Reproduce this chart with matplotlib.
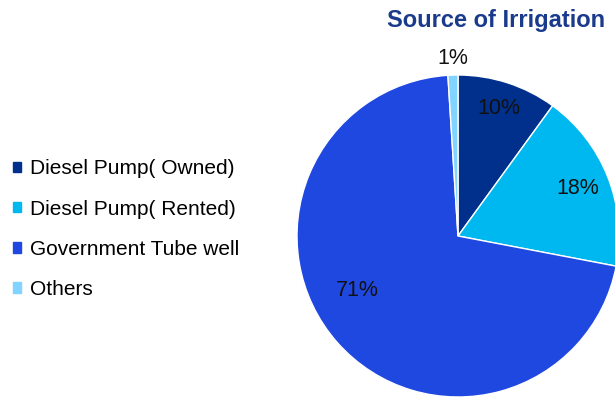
import numpy as np
import matplotlib.pyplot as plt

plt.rcParams['font.family'] = ['Liberation Sans', 'DejaVu Sans']

sources = ['Diesel Pump( Owned)', 'Diesel Pump( Rented)', 'Government Tube well', 'Others']
shares = [10, 18, 71, 1]
colors = ['#00308C', '#00B8F0', '#1F48E0', '#80D4FF']
label_dist = [0.83, 0.80, 0.71, 1.12]

fig = plt.figure(figsize=(6.15, 3.98), dpi=100)
ax = fig.add_axes([0, 0, 1, 1])

cx, cy, r = 458, 162, 161
wedges, _ = ax.pie(shares, colors=colors, startangle=90, counterclock=False,
                   center=(cx, cy), radius=r, frame=True,
                   wedgeprops=dict(edgecolor='white', linewidth=1))
ax.set_xlim(0, 615)
ax.set_ylim(0, 398)
ax.set_aspect('equal')
ax.axis('off')

for i, w in enumerate(wedges):
    ang = np.deg2rad((w.theta1 + w.theta2) / 2)
    if sources[i] == 'Government Tube well':
        ang = ang - np.deg2rad(13)
    d = label_dist[i] * r
    if sources[i] == 'Others':
        d = 1.1 * r
    ax.text(cx + d * np.cos(ang), cy + d * np.sin(ang), f'{shares[i]}%',
            ha='center', va='center', fontsize=15.5, color='#111111')

ax.text(496, 398 - 20, 'Source of Irrigation', ha='center', va='center',
        fontsize=17, fontweight='bold', color='#1A3A8C')

handles = [plt.Rectangle((0, 0), 1, 1, color=c) for c in colors]
fig.legend(handles, sources, loc='center left', bbox_to_anchor=(13 / 615, 0.424),
           frameon=False, fontsize=15, handlelength=0.4, handleheight=0.4,
           handletextpad=0.4, labelspacing=1.02, borderpad=0, borderaxespad=0)

fig.savefig('out.png', dpi=100)
